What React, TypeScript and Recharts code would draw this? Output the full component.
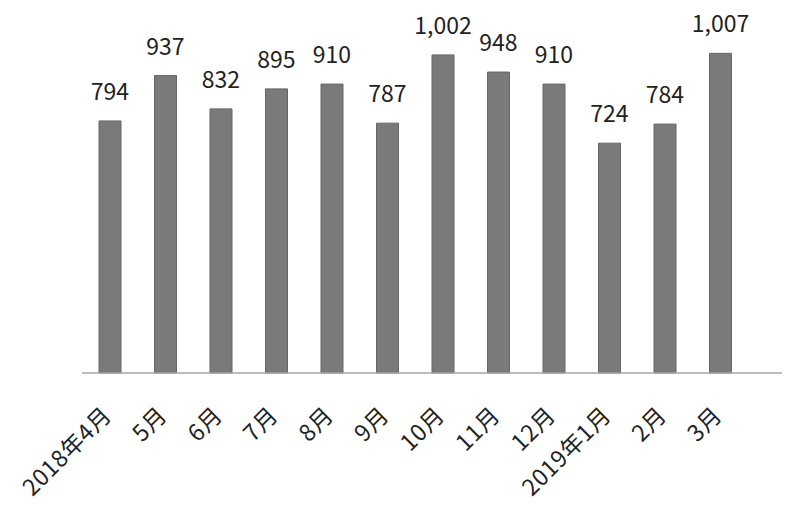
import { BarChart, Bar, XAxis, YAxis, LabelList } from 'recharts';

// 月別件数（2018年4月〜2019年3月）
const months = ['2018年4月', '5月', '6月', '7月', '8月', '9月', '10月', '11月', '12月', '2019年1月', '2月', '3月'];
const counts = [794, 937, 832, 895, 910, 787, 1002, 948, 910, 724, 784, 1007];

const data = months.map((m, i) => ({ month: m, count: counts[i] }));

const FONT = '"Noto Sans CJK JP", "Noto Sans", sans-serif';

function MonthTick(props: any) {
  const { x, y, payload } = props;
  const ax = x + 3;
  const ay = y + 36;
  return (
    <text
      x={ax}
      y={ay}
      textAnchor="end"
      fontSize={23}
      fontFamily={FONT}
      letterSpacing={0.5}
      fill="#222"
      transform={`rotate(-45, ${ax}, ${ay})`}
    >
      {payload.value}
    </text>
  );
}

export default function App() {
  return (
    <div style={{ position: 'absolute', left: 0, top: 0, width: 800, height: 520, background: '#fff' }}>
      <BarChart
        width={800}
        height={520}
        data={data}
        margin={{ top: 0, right: 18, bottom: 0, left: 82 }}
        barCategoryGap={17}
      >
        <XAxis
          dataKey="month"
          interval={0}
          tickLine={false}
          axisLine={{ stroke: '#a6a6a6', strokeWidth: 1.5 }}
          padding={{ left: 0, right: 34 }}
          tick={<MonthTick />}
          height={147}
        />
        <YAxis hide domain={[0, 1175]} />
        <Bar dataKey="count" fill="#7a7a7a" stroke="#666" strokeWidth={1} isAnimationActive={false}>
          <LabelList
            dataKey="count"
            position="top"
            offset={21}
            fontSize={23}
            fontFamily={FONT}
            fill="#222"
            formatter={(v: any) => Number(v).toLocaleString('en-US')}
          />
        </Bar>
      </BarChart>
    </div>
  );
}
